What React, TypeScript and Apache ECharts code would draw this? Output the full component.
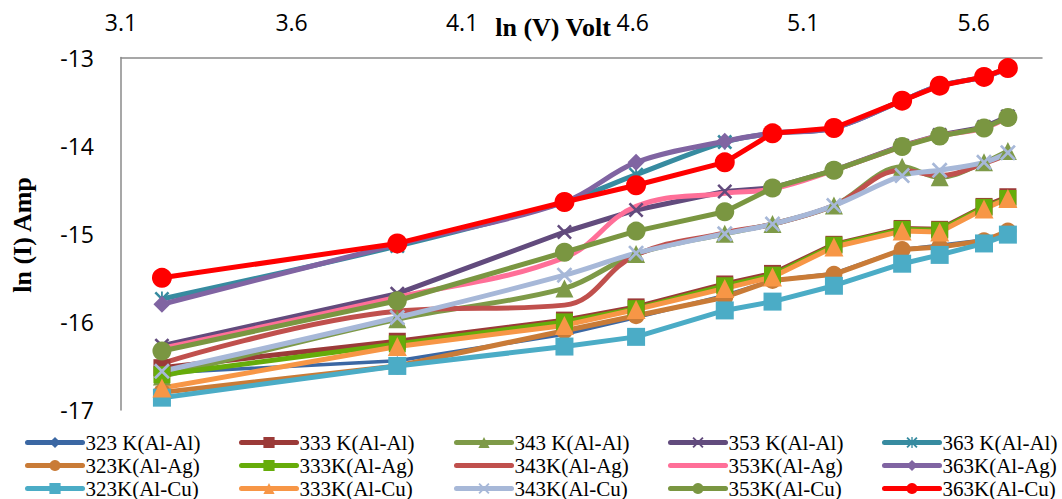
import React, { useEffect, useRef } from "react";
import * as echarts from "echarts";

// ln(V) values (x)
const lnV = [3.22, 3.91, 4.4, 4.61, 4.87, 5.01, 5.19, 5.39, 5.5, 5.63, 5.7];

// Series names
const namesAlAl = ["323 K(Al-Al)", "333 K(Al-Al)", "343 K(Al-Al)", "353 K(Al-Al)", "363 K(Al-Al)"];
const namesAlAg = ["323K(Al-Ag)", "333K(Al-Ag)", "343K(Al-Ag)", "353K(Al-Ag)", "363K(Al-Ag)"];
const namesAlCu = ["323K(Al-Cu)", "333K(Al-Cu)", "343K(Al-Cu)", "353K(Al-Cu)", "363K(Al-Cu)"];

// ln(I) values (y)
const alAl323 = [-16.58, -16.44, -16.14, -15.95, -15.7, -15.53, -15.45, -15.18, -15.13, -15.07, -14.98];
const alAl333 = [-16.52, -16.22, -15.98, -15.83, -15.57, -15.45, -15.12, -14.94, -14.95, -14.69, -14.58];
const alAl343 = [-16.62, -15.97, -15.62, -15.23, -15.0, -14.89, -14.68, -14.24, -14.36, -14.19, -14.06];
const alAl353 = [-16.27, -15.68, -14.98, -14.73, -14.52, -14.48, -14.28, -14.0, -13.88, -13.79, -13.67];
const alAl363 = [-15.74, -15.14, -14.64, -14.33, -13.96, -13.86, -13.8, -13.49, -13.32, -13.22, -13.12];

const alAg323 = [-16.8, -16.5, -16.1, -15.93, -15.72, -15.53, -15.46, -15.18, -15.15, -15.08, -14.97];
const alAg333 = [-16.6, -16.25, -16.0, -15.85, -15.59, -15.47, -15.13, -14.95, -14.96, -14.7, -14.6];
const alAg343 = [-16.47, -15.88, -15.81, -15.24, -14.99, -14.89, -14.68, -14.28, -14.34, -14.2, -14.1];
const alAg353 = [-16.3, -15.72, -15.27, -14.69, -14.54, -14.49, -14.28, -14.01, -13.89, -13.8, -13.68];
const alAg363 = [-15.8, -15.12, -14.64, -14.19, -13.95, -13.86, -13.8, -13.49, -13.32, -13.22, -13.12];

const alCu323 = [-16.86, -16.5, -16.28, -16.17, -15.87, -15.77, -15.59, -15.34, -15.24, -15.11, -15.01];
const alCu333 = [-16.75, -16.28, -16.04, -15.86, -15.62, -15.49, -15.15, -14.97, -14.98, -14.72, -14.6];
const alCu343 = [-16.56, -15.95, -15.47, -15.22, -15.0, -14.89, -14.68, -14.34, -14.28, -14.19, -14.08];
const alCu353 = [-16.33, -15.76, -15.21, -14.97, -14.75, -14.48, -14.28, -14.01, -13.89, -13.8, -13.68];
const alCu363 = [-15.5, -15.11, -14.64, -14.45, -14.19, -13.86, -13.8, -13.49, -13.32, -13.22, -13.12];

const CROSS = "path://M0,1.2L1.2,0L5,3.8L8.8,0L10,1.2L6.2,5L10,8.8L8.8,10L5,6.2L1.2,10L0,8.8L3.8,5Z";
const STAR =
  "path://M0,1.2L1.2,0L5,3.8L8.8,0L10,1.2L6.2,5L10,8.8L8.8,10L5,6.2L1.2,10L0,8.8L3.8,5Z M4.4,0L5.6,0L5.6,10L4.4,10Z";

type Spec = {
  name: string;
  data: number[];
  color: string;
  symbol: string;
  size: number;
  smooth?: number;
  width?: number;
};

const specs: Spec[] = [
  { name: namesAlAl[0], data: alAl323, color: "#3B67A3", symbol: "diamond", size: 9, width: 3.5 },
  { name: namesAlAl[1], data: alAl333, color: "#9B3A38", symbol: "rect", size: 17 },
  { name: namesAlAl[2], data: alAl343, color: "#7E9A48", symbol: "triangle", size: 18, smooth: 0.35 },
  { name: namesAlAl[3], data: alAl353, color: "#624B7D", symbol: CROSS, size: 15 },
  { name: namesAlAl[4], data: alAl363, color: "#378BA0", symbol: STAR, size: 15, smooth: 0.35 },
  { name: namesAlAg[0], data: alAg323, color: "#C97B37", symbol: "circle", size: 17 },
  { name: namesAlAg[1], data: alAg333, color: "#66AC0A", symbol: "rect", size: 17 },
  { name: namesAlAg[2], data: alAg343, color: "#C0504D", symbol: "none", size: 0, smooth: 0.4 },
  { name: namesAlAg[3], data: alAg353, color: "#FF6F98", symbol: "none", size: 0, smooth: 0.4 },
  { name: namesAlAg[4], data: alAg363, color: "#8064A2", symbol: "diamond", size: 17, smooth: 0.35 },
  { name: namesAlCu[0], data: alCu323, color: "#4BACC6", symbol: "rect", size: 18 },
  { name: namesAlCu[1], data: alCu333, color: "#F79646", symbol: "triangle", size: 19 },
  { name: namesAlCu[2], data: alCu343, color: "#A7B8D8", symbol: CROSS, size: 16, smooth: 0.35 },
  { name: namesAlCu[3], data: alCu353, color: "#7A9641", symbol: "circle", size: 19 },
  { name: namesAlCu[4], data: alCu363, color: "#FF0000", symbol: "circle", size: 20 },
];

const noMarker = new Set(specs.filter((s) => s.symbol === "none").map((s) => s.name));

export default function App() {
  const ref = useRef<HTMLDivElement>(null);
  useEffect(() => {
    document.body.style.margin = "0";
    if (!ref.current) return;
    const chart = echarts.init(ref.current, null, { renderer: "svg" });

    const series = specs.map((s) => ({
      name: s.name,
      type: "line",
      data: lnV.map((x, i) => [x, s.data[i]]),
      symbol: s.symbol,
      symbolSize: s.size,
      smooth: s.smooth ?? false,
      lineStyle: { color: s.color, width: s.width ?? 5, cap: "round", join: "round" },
      itemStyle: { color: s.color },
      emphasis: { disabled: true },
    }));

    const legendLefts = [25, 239, 454, 668, 882];
    const legends = legendLefts.map((left, k) => ({
      orient: "vertical",
      left,
      top: 431,
      height: 90,
      itemWidth: 55,
      itemHeight: 14,
      itemGap: 0,
      padding: 0,
      selectedMode: false,
      lineStyle: { width: 5, cap: "round" },
      textStyle: {
        fontFamily: "Liberation Serif",
        fontSize: 21,
        color: "#000",
        lineHeight: 23,
        padding: [0, 0, 0, -2],
      },
      data: [namesAlAl[k], namesAlAg[k], namesAlCu[k]].map((n) =>
        noMarker.has(n) ? { name: n, itemStyle: { opacity: 0 } } : { name: n }
      ),
    }));

    chart.setOption({
      animation: false,
      backgroundColor: "#fff",
      grid: { left: 121, right: 20, top: 57.5, bottom: 89, containLabel: false },
      xAxis: {
        type: "value",
        position: "top",
        min: 3.1,
        max: 5.8,
        interval: 0.5,
        axisLine: { show: true, lineStyle: { color: "#8A8A8A", width: 1.5 } },
        axisTick: { show: false },
        splitLine: { show: false },
        axisLabel: {
          showMaxLabel: false,
          formatter: (v: number) => v.toFixed(1),
          fontFamily: "Open Sans",
          fontSize: 23,
          lineHeight: 23,
          color: "#000",
          margin: 24,
        },
      },
      yAxis: {
        type: "value",
        min: -17,
        max: -13,
        interval: 1,
        axisLine: { show: true, lineStyle: { color: "#8A8A8A", width: 1.5 } },
        axisTick: { show: false },
        splitLine: { show: false },
        axisLabel: {
          fontFamily: "Open Sans",
          fontSize: 23,
          color: "#000",
          margin: 27,
        },
      },
      legend: legends,
      graphic: [
        {
          type: "text",
          x: 553,
          y: 27.5,
          style: {
            text: "ln (V) Volt",
            font: "bold 26px 'Liberation Serif'",
            fill: "#000",
            textAlign: "center",
            textVerticalAlign: "middle",
          },
        },
        {
          type: "text",
          x: 22,
          y: 235,
          rotation: Math.PI / 2,
          style: {
            text: "ln (I) Amp",
            font: "bold 26px 'Liberation Serif'",
            fill: "#000",
            textAlign: "center",
            textVerticalAlign: "middle",
          },
        },
      ],
      series,
    });
    return () => chart.dispose();
  }, []);
  return <div ref={ref} style={{ width: 1062, height: 499 }} />;
}
